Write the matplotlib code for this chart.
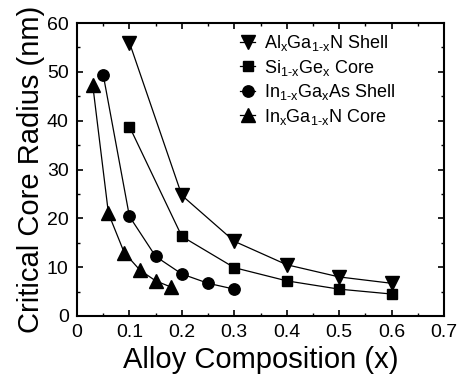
import matplotlib
matplotlib.use("Agg")
import matplotlib.pyplot as plt
from matplotlib.ticker import MultipleLocator

plt.rcParams['font.family'] = ['Liberation Sans', 'DejaVu Sans']
plt.rcParams['mathtext.fontset'] = 'custom'
plt.rcParams['mathtext.rm'] = 'Liberation Sans'
plt.rcParams['mathtext.it'] = 'Liberation Sans'

# AlxGa1-xN shell
algan_x = [0.1, 0.2, 0.3, 0.4, 0.5, 0.6]
algan_r = [56.0, 24.7, 15.3, 10.5, 8.0, 6.7]
# Si1-xGex core
sige_x = [0.1, 0.2, 0.3, 0.4, 0.5, 0.6]
sige_r = [38.8, 16.3, 9.9, 7.2, 5.5, 4.5]
# In1-xGaxAs shell
ingaas_x = [0.05, 0.1, 0.15, 0.2, 0.25, 0.3]
ingaas_r = [49.4, 20.4, 12.2, 8.6, 6.7, 5.5]
# InxGa1-xN core
ingan_x = [0.03, 0.06, 0.09, 0.12, 0.15, 0.18]
ingan_r = [47.3, 21.0, 13.0, 9.4, 7.2, 5.9]

labels = [r'Al$_\mathregular{x}$Ga$_\mathregular{1\text{-}x}$N Shell',
          r'Si$_\mathregular{1\text{-}x}$Ge$_\mathregular{x}$ Core',
          r'In$_\mathregular{1\text{-}x}$Ga$_\mathregular{x}$As Shell',
          r'In$_\mathregular{x}$Ga$_\mathregular{1\text{-}x}$N Core']
xtick_labels = ['0', '0.1', '0.2', '0.3', '0.4', '0.5', '0.6', '0.7']

fig = plt.figure(figsize=(4.59, 3.81), dpi=100)
ax = fig.add_axes([77/459, 1 - 316/381, 367/459, 293/381])

ax.plot(algan_x, algan_r, 'k-v', lw=0.9, ms=10.5, label=labels[0])
ax.plot(sige_x, sige_r, 'k-s', lw=0.9, ms=6.8, label=labels[1])
ax.plot(ingaas_x, ingaas_r, 'k-o', lw=0.9, ms=8.2, label=labels[2])
ax.plot(ingan_x, ingan_r, 'k-^', lw=0.9, ms=10.5, label=labels[3])

ax.set_xlim(0, 0.7)
ax.set_ylim(0, 60)
ax.set_xticks([0, 0.1, 0.2, 0.3, 0.4, 0.5, 0.6, 0.7])
ax.set_xticklabels(xtick_labels)
ax.xaxis.set_minor_locator(MultipleLocator(0.05))
ax.yaxis.set_major_locator(MultipleLocator(10))
ax.yaxis.set_minor_locator(MultipleLocator(5))
ax.tick_params(which='both', direction='in', top=True, right=True, labelsize=14)
ax.tick_params(which='major', length=4, width=1.2, pad=6)
ax.tick_params(which='minor', length=2, width=1)
for s in ax.spines.values():
    s.set_linewidth(1.5)

ax.set_xlabel('Alloy Composition (x)', fontsize=21, labelpad=3)
ax.set_ylabel('Critical Core Radius (nm)', fontsize=21, labelpad=1)

ax.legend(loc='upper left', bbox_to_anchor=(0.445, 0.965), frameon=False,
          fontsize=13, handlelength=0.8, handletextpad=0.5, labelspacing=0.25,
          borderaxespad=0, borderpad=0)

fig.savefig('out.png', dpi=100)
